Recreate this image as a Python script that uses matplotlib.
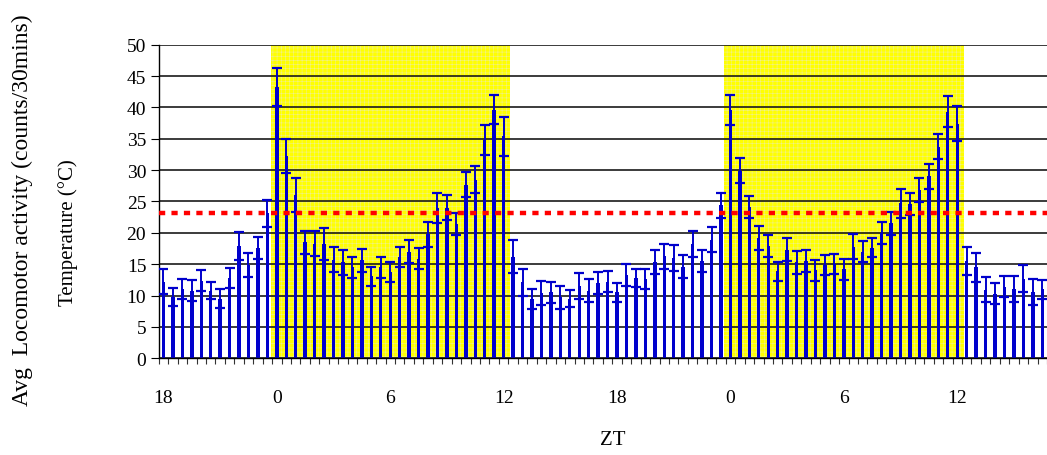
"""Locomotor activity across two light/dark cycles, 30-min bins, with chamber temperature."""

import matplotlib.pyplot as plt

# 30-min bins starting at ZT 18
activity_mean = [
    12.2, 9.8, 11.0, 10.8, 12.4, 10.8, 9.5, 12.8, 17.9, 14.9, 17.6, 23.1,
    43.3, 32.3, 26.1, 18.5, 18.3, 18.2, 15.7, 15.3, 14.5, 15.6, 13.1, 14.5,
    13.7, 16.1, 17.0, 15.9, 19.8, 24.0, 24.0, 21.4, 27.7, 28.5, 34.8, 39.6,
    35.4, 16.2, 12.1, 9.4, 10.4, 10.5, 9.7, 9.5, 11.5, 10.8, 12.0, 12.2,
    10.5, 13.3, 12.8, 12.7, 15.3, 16.3, 16.0, 14.6, 18.2, 15.5, 18.9, 24.4,
    39.6, 29.9, 24.1, 19.2, 17.9, 13.9, 17.3, 15.3, 15.5, 14.0, 14.9, 15.1,
    14.2, 17.8, 17.0, 17.6, 20.0, 21.5, 24.7, 24.6, 26.8, 29.0, 33.7, 39.3,
    37.4, 15.5, 14.5, 10.9, 10.3, 11.4, 11.0, 12.7, 10.6, 11.0,
]
activity_sem = [
    2.0, 1.4, 1.6, 1.7, 1.7, 1.4, 1.5, 1.6, 2.3, 1.9, 1.8, 2.1,
    3.0, 2.7, 2.7, 1.8, 2.0, 2.5, 2.0, 2.0, 1.7, 1.8, 1.5, 1.7,
    1.6, 1.6, 1.8, 1.7, 2.0, 2.4, 2.0, 1.8, 2.0, 2.2, 2.4, 2.3,
    3.1, 2.6, 2.2, 1.6, 1.9, 1.7, 1.9, 1.4, 2.1, 1.9, 1.8, 1.7,
    1.5, 1.8, 1.5, 1.6, 1.9, 2.0, 2.1, 1.8, 2.1, 1.7, 2.0, 2.0,
    2.4, 2.0, 1.8, 1.9, 1.8, 1.5, 1.8, 1.8, 1.7, 1.6, 1.6, 1.6,
    1.7, 2.0, 1.7, 1.5, 1.8, 1.8, 2.3, 1.7, 1.9, 2.0, 2.0, 2.5,
    2.8, 2.2, 2.3, 2.0, 1.7, 1.7, 2.1, 2.1, 2.1, 1.5,
]
temperature_c = 23.1

# lights-on shading, in bin units
light_spans = [(11.4, 36.7), (59.3, 84.7)]

zt_labels = ["18", "0", "6", "12", "18", "0", "6", "12"]
zt_label_bins = [0, 12, 24, 36, 48, 60, 72, 84]

BLUE = "#0000cc"
SERIF = ["Liberation Serif", "DejaVu Serif"]


def main() -> None:
    plt.rcParams["font.family"] = SERIF
    plt.rcParams["hatch.linewidth"] = 0.4

    fig = plt.figure(figsize=(10.47, 4.56), dpi=100, facecolor="white")
    ax = fig.add_axes([0.1516, 0.2121, 0.8484, 0.6877])

    n = len(activity_mean)
    x = list(range(n))

    for start, stop in light_spans:
        ax.axvspan(start, stop, facecolor="#ffff00", edgecolor="#f0f08c",
                   hatch="++++", linewidth=0, zorder=0)

    ax.set_yticks(range(0, 51, 5))
    ax.yaxis.grid(True, color="#1a1a1a", linewidth=1.2)
    ax.set_axisbelow(True)

    ax.bar(x, activity_mean, width=0.36, color=BLUE, zorder=2)
    ax.errorbar(x, activity_mean, yerr=activity_sem, fmt="none", ecolor=BLUE,
                elinewidth=1.4, capsize=3.5, capthick=1.6, zorder=3)

    ax.axhline(temperature_c, color="#ff0000", linewidth=3.2, dashes=(1.4, 1.4), zorder=4)

    ax.set_xlim(-0.5, 93.0)
    ax.set_ylim(0, 50)

    # boundary ticks between bins, ZT labels centred on bins
    ax.set_xticks([i - 0.5 for i in range(n + 1)])
    ax.set_xticklabels([])
    ax.tick_params(axis="x", which="major", length=4, width=0.8, color="#333333")
    ax.set_xticks(zt_label_bins, zt_labels, minor=True)
    ax.tick_params(axis="x", which="minor", length=0, pad=22, labelsize=14)
    ax.tick_params(axis="y", length=6, width=0.8, labelsize=14, pad=3)

    for side in ("top", "right"):
        ax.spines[side].set_visible(False)
    ax.spines["left"].set_linewidth(1.0)
    ax.spines["bottom"].set_linewidth(1.0)

    fig.text(0.021, 0.54, "Avg  Locomotor activity (counts/30mins)", rotation=90,
             ha="center", va="center", fontsize=17)
    fig.text(0.065, 0.49, "Temperature (\u00b0C)", rotation=90,
             ha="center", va="center", fontsize=15)
    fig.text(0.585, 0.035, "ZT", ha="center", va="center", fontsize=15)

    fig.savefig("out.png", dpi=100, facecolor="white")
    plt.close(fig)


if __name__ == "__main__":
    main()
